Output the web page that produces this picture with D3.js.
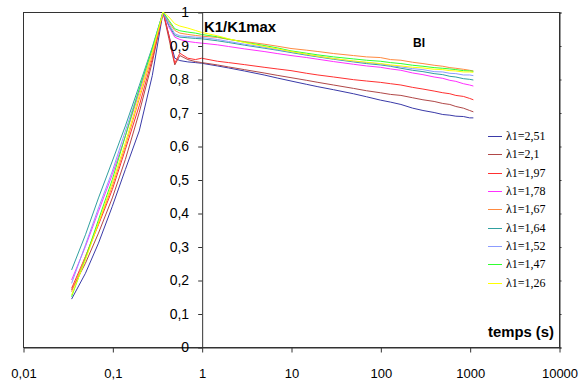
<!DOCTYPE html>
<html><head><meta charset="utf-8">
<script src="https://cdn.jsdelivr.net/npm/d3@7"></script>
<style>
body{margin:0;background:#fff;}
svg{display:block;}
</style></head>
<body><svg id="c" width="579" height="383"></svg>
<script>
// ---- data ----
const times = [0.035,0.05,0.07,0.1,0.14,0.2,0.28,0.37,0.43,0.5,0.57,0.7,0.85,
  1,1.5,2,3,5,7,10,15,20,30,50,70,
  100,130,170,230,300,400,500,600,700,850,1000,1100];

const seriesNames = ["λ1=2,51","λ1=2,1","λ1=1,97","λ1=1,78","λ1=1,67","λ1=1,64","λ1=1,52","λ1=1,47","λ1=1,26"];
const seriesColors = ["#3a3aa8","#b04848","#ff3030","#ff30ff","#ff8a40","#30a0a0","#8c9cff","#30ff30","#ffff00"];

const s251 = [0.143,0.22,0.31,0.42,0.53,0.645,0.81,1,0.93,0.862,0.855,0.851,0.849,
  0.847,0.839,0.833,0.824,0.812,0.803,0.794,0.784,0.777,0.768,0.756,0.747,
  0.737,0.731,0.724,0.713,0.706,0.700,0.694,0.692,0.689,0.688,0.684,0.684];
const s21 = [0.17,0.25,0.34,0.445,0.56,0.70,0.85,1,0.92,0.842,0.87,0.858,0.852,
  0.849,0.842,0.836,0.828,0.818,0.811,0.804,0.796,0.79,0.782,0.772,0.765,
  0.759,0.754,0.751,0.744,0.738,0.733,0.727,0.724,0.718,0.713,0.706,0.702];
const s197 = [0.175,0.27,0.365,0.47,0.59,0.72,0.86,1,0.93,0.847,0.877,0.862,0.858,
  0.862,0.853,0.849,0.843,0.835,0.83,0.825,0.817,0.812,0.806,0.798,0.794,
  0.79,0.786,0.782,0.775,0.77,0.764,0.759,0.756,0.751,0.748,0.742,0.738];
const s178 = [0.20,0.30,0.405,0.515,0.63,0.76,0.88,1,0.955,0.925,0.918,0.912,0.909,
  0.907,0.902,0.897,0.89,0.882,0.876,0.87,0.864,0.859,0.852,0.844,0.839,
  0.835,0.83,0.826,0.818,0.813,0.806,0.802,0.796,0.793,0.786,0.782,0.779];
const s167 = [0.165,0.27,0.37,0.48,0.60,0.74,0.87,1,0.97,0.945,0.937,0.933,0.93,
  0.928,0.924,0.918,0.912,0.904,0.898,0.891,0.886,0.882,0.876,0.87,0.866,
  0.864,0.858,0.856,0.85,0.846,0.841,0.838,0.834,0.832,0.829,0.826,0.824];
const s164 = [0.23,0.335,0.445,0.555,0.66,0.78,0.895,1,0.96,0.93,0.925,0.923,0.921,
  0.92,0.914,0.909,0.901,0.892,0.886,0.879,0.871,0.866,0.859,0.851,0.846,
  0.842,0.838,0.832,0.826,0.822,0.816,0.813,0.808,0.806,0.801,0.799,0.797];
const s152 = [0.19,0.305,0.415,0.525,0.645,0.77,0.89,1,0.965,0.935,0.929,0.927,0.925,
  0.924,0.918,0.912,0.904,0.895,0.888,0.881,0.873,0.868,0.861,0.853,0.849,
  0.845,0.84,0.836,0.831,0.828,0.822,0.821,0.817,0.816,0.812,0.812,0.81];
const s147 = [0.15,0.265,0.38,0.50,0.63,0.77,0.89,1,0.975,0.95,0.944,0.94,0.937,
  0.933,0.926,0.919,0.91,0.9,0.893,0.884,0.877,0.872,0.866,0.86,0.856,
  0.853,0.849,0.846,0.841,0.838,0.834,0.832,0.83,0.828,0.825,0.824,0.823];
const s126 = [0.155,0.26,0.37,0.49,0.61,0.75,0.88,1,0.985,0.965,0.958,0.952,0.945,
  0.939,0.929,0.92,0.909,0.897,0.89,0.882,0.874,0.868,0.861,0.854,0.85,
  0.846,0.842,0.839,0.835,0.833,0.829,0.828,0.825,0.824,0.821,0.821,0.82];
const seriesValues = [s251,s21,s197,s178,s167,s164,s152,s147,s126];

const xTickValues = [0.01,0.1,1,10,100,1000,10000];
const xTickLabels = ["0,01","0,1","1","10","100","1000","10000"];
const yTickValues = [0,0.1,0.2,0.3,0.4,0.5,0.6,0.7,0.8,0.9,1];
const yTickLabels = ["0","0,1","0,2","0,3","0,4","0,5","0,6","0,7","0,8","0,9","1"];

// ---- chart ----
const svg = d3.select("#c");
const L=23, R=559, T=12, B=347;
const x = d3.scaleLog().domain([0.01,10000]).range([L,R]);
const y = d3.scaleLinear().domain([0,1]).range([B,T]);
const axisColor = "#333";

// frame
svg.append("rect").attr("x",L+0.5).attr("y",T+0.5).attr("width",R-L).attr("height",B-T)
  .attr("fill","none").attr("stroke",axisColor).attr("stroke-width",1);

// curves
const line = d3.line().x((d,i)=>x(times[i])).y(d=>y(d));
const gL = svg.append("g");
seriesValues.forEach((vals,k)=>{
  gL.append("path").datum(vals).attr("d",line).attr("fill","none")
    .attr("stroke",seriesColors[k]).attr("stroke-width",1);
});

// x axis
const minorX = [];
for (let e=-2;e<4;e++) for (let m=2;m<10;m++) minorX.push(m*Math.pow(10,e));
const gx = svg.append("g").attr("transform",`translate(0.5,${B+0.5})`);
gx.call(d3.axisBottom(x).tickValues(minorX).tickSize(3).tickFormat(""));
gx.call(d3.axisBottom(x).tickValues(xTickValues).tickSizeInner(5).tickSizeOuter(0).tickPadding(16)
  .tickFormat((d,i)=>xTickLabels[i]));
gx.selectAll("path.domain").attr("stroke",axisColor);
gx.selectAll("line").attr("stroke",axisColor);
gx.selectAll("text").attr("font-family","Arial, 'Liberation Sans', sans-serif").attr("font-size",13).attr("fill","#000");

// y axis at x=1
const minorY = d3.range(0,1.0001,0.02);
const gy = svg.append("g").attr("transform",`translate(${x(1)+0.5},0.5)`);
gy.call(d3.axisLeft(y).tickValues(minorY).tickSize(3).tickFormat(""));
gy.call(d3.axisRight(y).tickValues(yTickValues).tickSize(2).tickFormat(""));
gy.call(d3.axisLeft(y).tickValues(yTickValues).tickSizeInner(4).tickSizeOuter(0).tickPadding(9)
  .tickFormat((d,i)=>yTickLabels[i]));
gy.selectAll("path.domain").attr("stroke",axisColor);
gy.selectAll("line").attr("stroke",axisColor);
gy.selectAll("text").attr("font-family","Arial, 'Liberation Sans', sans-serif").attr("font-size",14).attr("fill","#000");

// right axis
const gr = svg.append("g").attr("transform",`translate(${R+0.5},0.5)`);
gr.call(d3.axisLeft(y).tickValues(minorY).tickSize(2).tickFormat(""));
gr.call(d3.axisLeft(y).tickValues(yTickValues).tickSize(3).tickFormat(""));
gr.call(d3.axisRight(y).tickValues(yTickValues).tickSize(2).tickFormat(""));
gr.selectAll("path.domain").attr("stroke",axisColor);
gr.selectAll("line").attr("stroke",axisColor);

// labels
svg.append("text").attr("x",204).attr("y",32).text("K1/K1max")
  .attr("font-family","Arial, 'Liberation Sans', sans-serif").attr("font-weight","bold").attr("font-size",14)
  .attr("textLength",72).attr("lengthAdjust","spacingAndGlyphs");
svg.append("text").attr("x",413).attr("y",47).text("BI")
  .attr("font-family","Arial, 'Liberation Sans', sans-serif").attr("font-weight","bold").attr("font-size",12);
svg.append("text").attr("x",488).attr("y",337).text("temps (s)")
  .attr("font-family","Arial, 'Liberation Sans', sans-serif").attr("font-weight","bold").attr("font-size",14)
  .attr("textLength",66).attr("lengthAdjust","spacingAndGlyphs");

// legend
const lg = svg.append("g");
seriesNames.forEach((n,k)=>{
  const yy = 136 + k*18.35;
  lg.append("line").attr("x1",488).attr("x2",502).attr("y1",Math.round(yy)+0.5).attr("y2",Math.round(yy)+0.5)
    .attr("stroke",seriesColors[k]).attr("stroke-width",1);
  lg.append("text").attr("x",506).attr("y",yy+4).text(n)
    .attr("font-family","'Times New Roman', 'Liberation Serif', serif").attr("font-size",12).attr("fill","#000");
});
</script></body></html>
